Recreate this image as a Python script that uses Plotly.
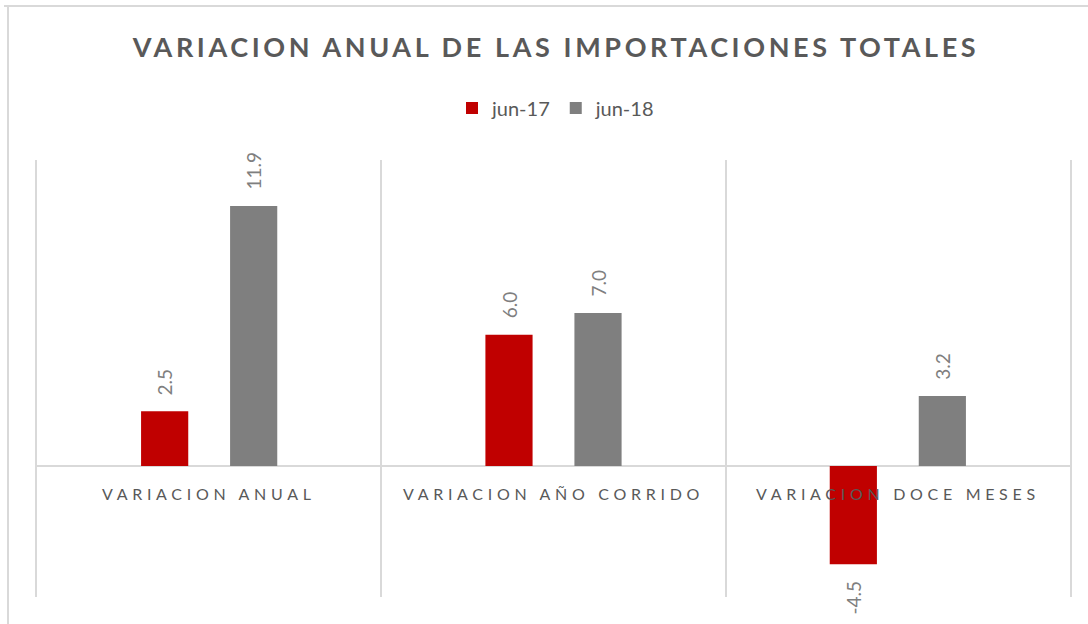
import plotly.graph_objects as go

categories = ["VARIACION ANUAL", "VARIACION AÑO CORRIDO", "VARIACION DOCE MESES"]
series_names = ["jun-17", "jun-18"]
jun17 = [2.5, 6.0, -4.5]
jun18 = [11.9, 7.0, 3.2]
series_values = [jun17, jun18]
colors = ["#C00000", "#7F7F7F"]

W, H = 1088, 624
L, R, T, B = 37, 18, 160, 27
PW, PH = W - L - R, H - T - B
FONT = "Lato"
TXT = "#595959"

fig = go.Figure()
for name, vals, col in zip(series_names, series_values, colors):
    fig.add_trace(go.Bar(
        x=categories, y=vals, name=name,
        marker=dict(color=col, line=dict(width=0)),
    ))

annotations = []
offsets = [-44.5, 44.5]
for vals, off in zip(series_values, offsets):
    for c, v in zip(categories, vals):
        annotations.append(dict(
            x=c, y=v, xref="x", yref="y", text=f"{v:.1f}", showarrow=False,
            textangle=-90, xshift=off, yshift=14 if v >= 0 else -14,
            yanchor="bottom" if v >= 0 else "top", xanchor="center",
            font=dict(family=FONT, size=19, color="#7F7F7F"),
        ))
for c in categories:
    annotations.append(dict(
        x=c, y=0, xref="x", yref="y", showarrow=False, yshift=-28,
        text=f"<span style='letter-spacing:4.7px'>{c}</span>",
        font=dict(family=FONT, size=16, color=TXT),
    ))

def px_x(p):
    return (p - L) / PW

def px_y(p):
    return (H - B - p) / PH

shapes = [
    dict(type="line", xref="paper", yref="paper", x0=px_x(4), x1=px_x(1088), y0=px_y(6), y1=px_y(6),
         line=dict(color="#D9D9D9", width=2)),
    dict(type="line", xref="paper", yref="paper", x0=px_x(8), x1=px_x(8), y0=px_y(6), y1=px_y(624),
         line=dict(color="#D9D9D9", width=2)),
]

fig.update_layout(
    width=W, height=H,
    margin=dict(l=L, r=R, t=T, b=B),
    paper_bgcolor="white", plot_bgcolor="white",
    barmode="group", bargap=0.483, bargroupgap=0.47,
    title=dict(
        text="<b><span style='letter-spacing:3.6px'>VARIACION ANUAL DE LAS IMPORTACIONES TOTALES</span></b>",
        x=556 / W, xanchor="center", y=1 - 48 / H, yanchor="middle",
        font=dict(family=FONT, size=27, color=TXT),
    ),
    legend=dict(
        orientation="h", x=px_x(556), xanchor="center", y=(H - B - 108) / PH, yanchor="middle",
        font=dict(family=FONT, size=20, color=TXT), bgcolor="rgba(0,0,0,0)",
    ),
    xaxis=dict(
        type="category", tickson="boundaries", showgrid=True, gridcolor="#D9D9D9", gridwidth=2,
        showticklabels=False, ticks="", showline=False, zeroline=False,
    ),
    yaxis=dict(
        range=[-6, 14], showgrid=False, showticklabels=False, ticks="",
        zeroline=True, zerolinecolor="#D9D9D9", zerolinewidth=2,
        showline=True, mirror=True, linecolor="#D9D9D9", linewidth=2,
    ),
    annotations=annotations,
    shapes=shapes,
    showlegend=True,
)

fig.write_html(
    "out.html",
    config={"displayModeBar": False},
    post_script="document.body.style.margin='0';document.body.style.overflow='hidden';",
)
